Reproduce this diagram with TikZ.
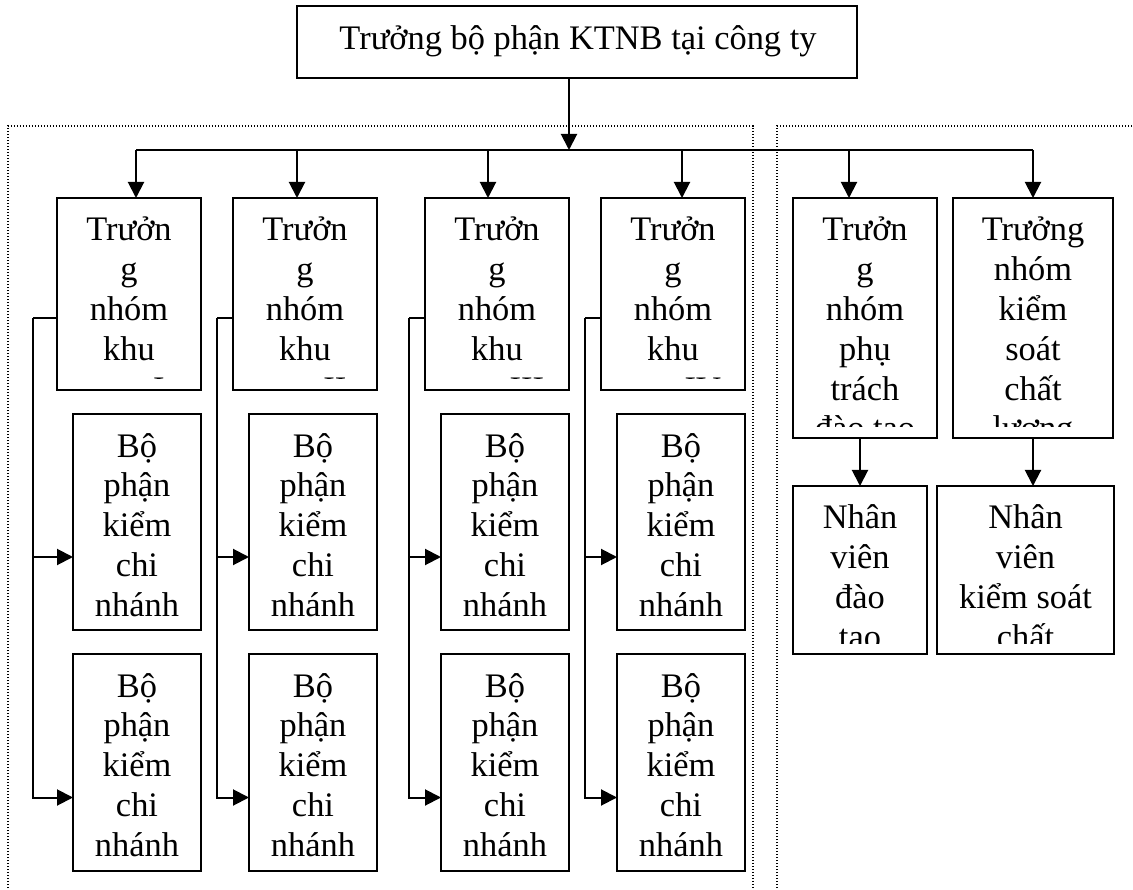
\documentclass[tikz,border=0pt]{standalone}
\usepackage{fontspec}
\setmainfont{Liberation Serif}
\usetikzlibrary{arrows.meta}

% multi-line label whose first baseline is the node's base
\newcommand\stacktext[1]{\vtop{\hsize=220pt\parindent=0pt\centering
  \fontsize{34.4pt}{39.8pt}\selectfont\noindent #1\par}}

% box from (x1,y1) to (x2,y2); its text is cut 11pt above the lower edge
\newcommand\orgbox[6]{%
  \node[boxnode, minimum width={(#4)-(#2)}, minimum height={(#5)-(#3)}]
    (#1) at ({((#2)+(#4))/2},{((#3)+(#5))/2}) {};
  \begin{scope}
    \clip (#2,#3) rectangle (#4,{(#5)-11});
    \node[txtnode] (#1-t) at ({((#2)+(#4))/2},{(#3)+43}) {\stacktext{#6}};
  \end{scope}}

\tikzset{
  boxnode/.style={draw, rectangle, line width=2pt, inner sep=0pt, outer sep=0pt},
  txtnode/.style={inner sep=0pt, outer sep=0pt, anchor=base},
  line/.style={line width=2pt},
  arr/.style={line width=2pt, -{Triangle[width=16pt,length=16pt]}},
  frame/.style={line width=1.4pt, dash pattern=on 1.4pt off 1.6pt},
}

\begin{document}
\begin{tikzpicture}[x=1pt, y=-1pt]
\useasboundingbox (0,0) rectangle (1133,890);

% dotted frames of the two divisions
\draw[frame] (8,900) |- (753,126) -- (753,900);
\draw[frame] (777,900) |- (1140,126);

% head of internal audit
\node[boxnode, minimum width=560pt, minimum height=72pt] (top) at (577,42) {};
\node[txtnode] (top-t) at (578,50)
  {\fontsize{34.4pt}{39.8pt}\selectfont Trưởng bộ phận KTNB tại công ty};

\coordinate (hub) at (569,150);
\draw[arr] (top.south -| hub) -- (hub);

% regional groups with their branch units
\foreach \i/\lx/\sp/\bx/\lab in {1/57/33/136/I, 2/233/217/297/II,
                                 3/425/409/488/III, 4/601/585/682/IV} {
  \orgbox{lead\i}{\lx}{198}{\lx+144}{390}{Trưởn\\g\\nhóm\\khu\\vực \lab}
  \orgbox{bra\i}{\lx+16}{414}{\lx+144}{630}{Bộ\\phận\\kiểm\\chi\\nhánh}
  \orgbox{brb\i}{\lx+16}{654}{\lx+144}{871}{Bộ\\phận\\kiểm\\chi\\nhánh}
  \coordinate (t\i) at (\bx,150);
  \coordinate (k\i) at (\sp,318);
  \draw[arr] (t\i) -- (t\i |- lead\i.north);
  \draw[line] (lead\i.west |- k\i) -- (k\i);
  \draw[arr] (k\i) |- ([yshift=-35pt]bra\i.west);
  \draw[arr] (k\i) |- ([yshift=-35pt]brb\i.west);
}

% training and quality control groups
\orgbox{lead5}{793}{198}{937}{438}{Trưởn\\g\\nhóm\\phụ\\trách\\đào tạo}
\orgbox{lead6}{953}{198}{1113}{438}{Trưởng\\nhóm\\kiểm\\soát\\chất\\lượng}
\orgbox{staff5}{793}{486}{927}{654}{Nhân\\viên\\đào\\tạo}
\orgbox{staff6}{937}{486}{1114}{654}{Nhân\\viên\\kiểm soát\\chất}

\coordinate (t5) at (849,150);
\coordinate (t6) at (1033,150);
\draw[arr] (t5) -- (t5 |- lead5.north);
\draw[arr] (t6) -- (t6 |- lead6.north);

% horizontal distribution line
\draw[line] (t1) -- (t6);

\draw[arr] (staff5.north |- lead5.south) -- (staff5.north);
\draw[arr] (lead6.south) -- (lead6.south |- staff6.north);
\end{tikzpicture}
\end{document}
